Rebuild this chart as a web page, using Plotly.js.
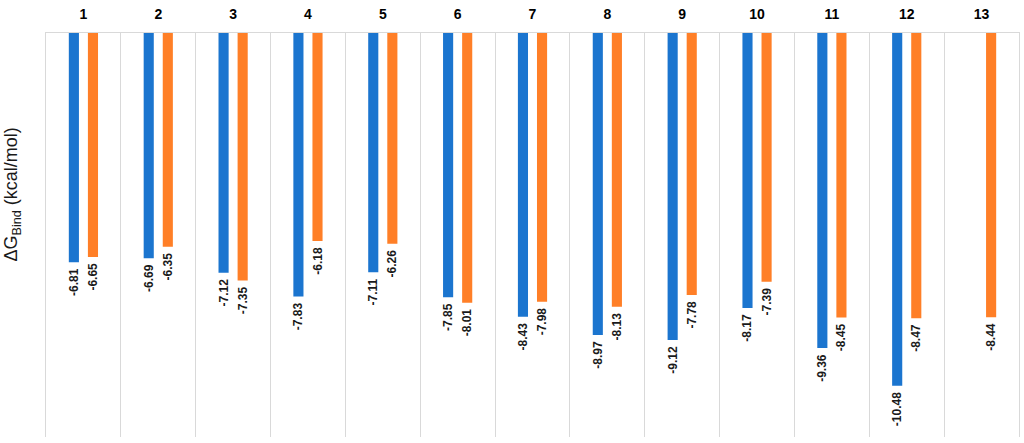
<!DOCTYPE html>
<html>
<head>
<meta charset="utf-8">
<script src="https://cdn.plot.ly/plotly-3.0.1.min.js"></script>
<style>
  html, body { margin: 0; padding: 0; background: #fff; }
  #chart { width: 1024px; height: 443px; }
</style>
</head>
<body>
<div id="chart"></div>
<script>
// Categories and binding energies
const categories = ['1', '2', '3', '4', '5', '6', '7', '8', '9', '10', '11', '12', '13'];
const blueValues = [-6.81, -6.69, -7.12, -7.83, -7.11, -7.85, -8.43, -8.97, -9.12, -8.17, -9.36, -10.48, null];
const orangeValues = [-6.65, -6.35, -7.35, -6.18, -6.26, -8.01, -7.98, -8.13, -7.78, -7.39, -8.45, -8.47, -8.44];

// trailing nbsp gives a little room between bar end and label
function labels(values) {
    return values.map(v => v === null ? '' : v.toFixed(2) + '\u00a0');
}

const labelFont = { family: 'Liberation Sans, Arial, sans-serif', size: 12, color: '#1a1a1a', weight: 'bold' };

const blueTrace = {
    x: categories,
    y: blueValues,
    type: 'bar',
    name: 'Series 1',
    marker: { color: '#1b75cf' },
    text: labels(blueValues),
    textposition: 'outside',
    textangle: -90,
    constraintext: 'none',
    textfont: labelFont,
    cliponaxis: false,
    hoverinfo: 'x+y'
};

const orangeTrace = {
    x: categories,
    y: orangeValues,
    type: 'bar',
    name: 'Series 2',
    marker: { color: '#ff7f27' },
    text: labels(orangeValues),
    textposition: 'outside',
    textangle: -90,
    constraintext: 'none',
    textfont: labelFont,
    cliponaxis: false,
    hoverinfo: 'x+y'
};

const layout = {
    width: 1024,
    height: 443,
    margin: { t: 33, r: 5, l: 46, b: 6 },
    paper_bgcolor: '#fff',
    plot_bgcolor: '#fff',
    showlegend: false,
    barmode: 'group',
    bargap: 0.49,
    bargroupgap: 0.47,
    xaxis: {
        type: 'category',
        side: 'top',
        tickson: 'boundaries',
        showgrid: true,
        gridcolor: '#d9d9d9',
        gridwidth: 1,
        showline: true,
        linecolor: '#d9d9d9',
        ticks: '',
        ticklabelstandoff: 7,
        tickfont: { family: 'Liberation Sans, Arial, sans-serif', size: 14, color: '#000', weight: 'bold' },
        fixedrange: true
    },
    yaxis: {
        range: [-12, 0],
        showgrid: false,
        zeroline: false,
        showline: true,
        mirror: true,
        linecolor: '#d9d9d9',
        showticklabels: false,
        ticks: '',
        fixedrange: true
    },
    annotations: [{
        xref: 'paper', yref: 'paper',
        x: -0.034, y: 0.6,
        xanchor: 'center', yanchor: 'middle',
        textangle: -90,
        showarrow: false,
        text: 'ΔG<sub>Bind</sub> (kcal/mol)',
        font: { family: 'Liberation Sans, Arial, sans-serif', size: 18, color: '#1a1a1a' }
    }]
};

Plotly.newPlot('chart', [blueTrace, orangeTrace], layout, { displayModeBar: false, responsive: false });
</script>
</body>
</html>
